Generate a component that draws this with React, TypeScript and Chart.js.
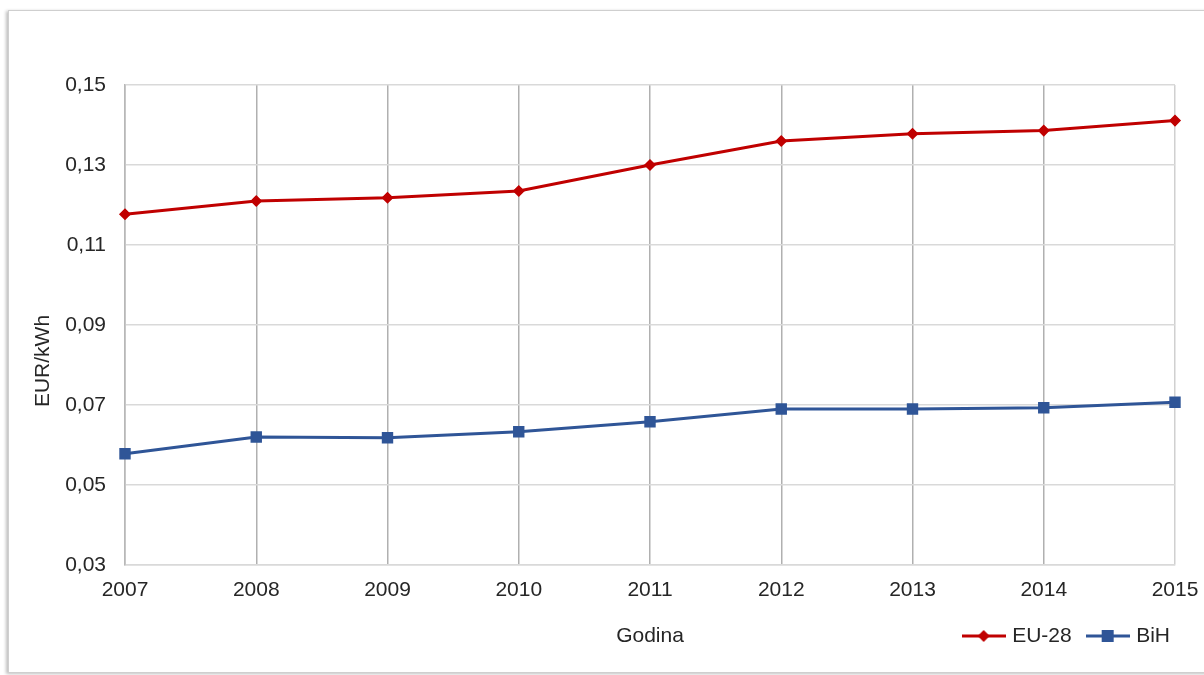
import React, { useEffect, useRef } from "react";
import { Chart, registerables } from "chart.js";

Chart.register(...registerables);

const years = ["2007", "2008", "2009", "2010", "2011", "2012", "2013", "2014", "2015"];
const eu28 = [0.1177, 0.121, 0.1218, 0.1235, 0.13, 0.136, 0.1378, 0.1386, 0.1411];
const bih = [0.0578, 0.062, 0.0618, 0.0633, 0.0658, 0.069, 0.069, 0.0693, 0.0707];
const seriesNames = ["EU-28", "BiH"];
const yMin = 0.03;
const yMax = 0.15;
const yStep = 0.02;
const xTitle = "Godina";
const yTitle = "EUR/kWh";

const RED = "#c00000";
const BLUE = "#2f5597";
const FONT = "'Liberation Sans', Arial, sans-serif";
const TEXT = "#262626";

function makeLegendIcon(color: string, kind: "diamond" | "square"): HTMLCanvasElement {
  const c = document.createElement("canvas");
  c.width = 44;
  c.height = 16;
  const g = c.getContext("2d")!;
  g.strokeStyle = color;
  g.lineWidth = 3;
  g.beginPath();
  g.moveTo(0, 8);
  g.lineTo(44, 8);
  g.stroke();
  g.fillStyle = color;
  g.beginPath();
  if (kind === "diamond") {
    g.moveTo(22, 2);
    g.lineTo(28, 8);
    g.lineTo(22, 14);
    g.lineTo(16, 8);
    g.closePath();
  } else {
    g.rect(16, 2, 12, 12);
  }
  g.fill();
  return c;
}

const yTitlePlugin = {
  id: "yTitleCustom",
  afterDraw(chart: any) {
    const ctx = chart.ctx;
    const a = chart.chartArea;
    ctx.save();
    ctx.translate(43, (a.top + a.bottom) / 2 + 36);
    ctx.rotate(-Math.PI / 2);
    ctx.font = `21px ${FONT}`;
    ctx.fillStyle = TEXT;
    ctx.textAlign = "center";
    ctx.textBaseline = "middle";
    ctx.fillText(yTitle, 0, 0);
    ctx.restore();
  },
};

const legendShift = {
  id: "legendShift",
  afterLayout(chart: any) {
    const l = chart.legend;
    if (!l) return;
    const h = 21 + 18 + 10;
    l.top = 607.5;
    l.bottom = l.top + h;
    l.height = h;
    const dx = 1188 - l.right;
    l.left += dx;
    l.right += dx;
  },
};

export default function App() {
  const ref = useRef<HTMLCanvasElement | null>(null);

  useEffect(() => {
    if (!ref.current) return;
    const icons = [makeLegendIcon(RED, "diamond"), makeLegendIcon(BLUE, "square")];
    const chart = new Chart(ref.current, {
      type: "line",
      data: {
        labels: years,
        datasets: [
          {
            label: seriesNames[0],
            data: eu28,
            borderColor: RED,
            backgroundColor: RED,
            borderWidth: 3,
            pointStyle: "rectRot",
            pointRadius: 5,
            pointBorderWidth: 1.5,
            tension: 0,
          },
          {
            label: seriesNames[1],
            data: bih,
            borderColor: BLUE,
            backgroundColor: BLUE,
            borderWidth: 3,
            pointStyle: "rect",
            pointRadius: 7,
            pointBorderWidth: 1.5,
            tension: 0,
          },
        ],
      },
      options: {
        responsive: false,
        animation: false,
        layout: { padding: { left: 0, right: 29, top: 85, bottom: 25 } },
        font: { family: FONT, size: 21 },
        color: TEXT,
        scales: {
          x: {
            type: "category",
            offset: false,
            grid: {
              color: (c: any) => (c.index === years.length - 1 ? "#d0d0d0" : "#b0b0b0"),
              lineWidth: 1.5,
              drawTicks: false,
            },
            border: { display: true, color: "#d9d9d9", width: 1.5 },
            ticks: {
              color: TEXT,
              font: { family: FONT, size: 21 },
              padding: 13,
              maxRotation: 0,
              autoSkip: false,
            },
            title: {
              display: true,
              text: xTitle,
              color: TEXT,
              font: { family: FONT, size: 21 },
              padding: { top: 0, bottom: 0 },
            },
            afterFit: (s: any) => {
              s.height = 84;
              s.paddingLeft = 0;
              s.paddingRight = 0;
            },
          },
          y: {
            min: yMin,
            max: yMax,
            grid: { color: "#d9d9d9", lineWidth: 1.5, drawTicks: false },
            border: { display: true, color: "#b8b8b8", width: 1.5 },
            ticks: {
              stepSize: yStep,
              color: TEXT,
              font: { family: FONT, size: 21 },
              padding: 19,
              callback: (v: any) => Number(v).toFixed(2).replace(".", ","),
            },
            afterFit: (s: any) => {
              s.width = 125;
            },
          },
        },
        plugins: {
          title: { display: false },
          tooltip: { enabled: false },
          legend: {
            display: true,
            position: "bottom",
            align: "end",
            maxHeight: 1,
            labels: {
              usePointStyle: true,
              pointStyleWidth: 36,
              padding: 18,
              color: TEXT,
              font: { family: FONT, size: 21 },
              generateLabels: (ch: any) => {
                const items = Chart.defaults.plugins.legend.labels.generateLabels(ch);
                return items.map((it: any, i: number) => ({ ...it, pointStyle: icons[i] }));
              },
            },
          },
        },
      },
      plugins: [legendShift, yTitlePlugin],
    } as any);
    return () => chart.destroy();
  }, []);

  return (
    <div
      style={{
        position: "fixed",
        left: 0,
        top: 0,
        width: 1204,
        height: 675,
        background: "#ffffff",
        overflow: "hidden",
      }}
    >
      <div
        style={{
          position: "absolute",
          left: 8,
          top: 10,
          width: 1220,
          height: 663,
          border: "1px solid #cfcfcf",
          boxShadow: "-2px 1px 3px rgba(0,0,0,0.25)",
          boxSizing: "border-box",
        }}
      />
      <canvas
        ref={ref}
        width={1204}
        height={675}
        style={{ position: "absolute", left: 0, top: 0 }}
      />
    </div>
  );
}
